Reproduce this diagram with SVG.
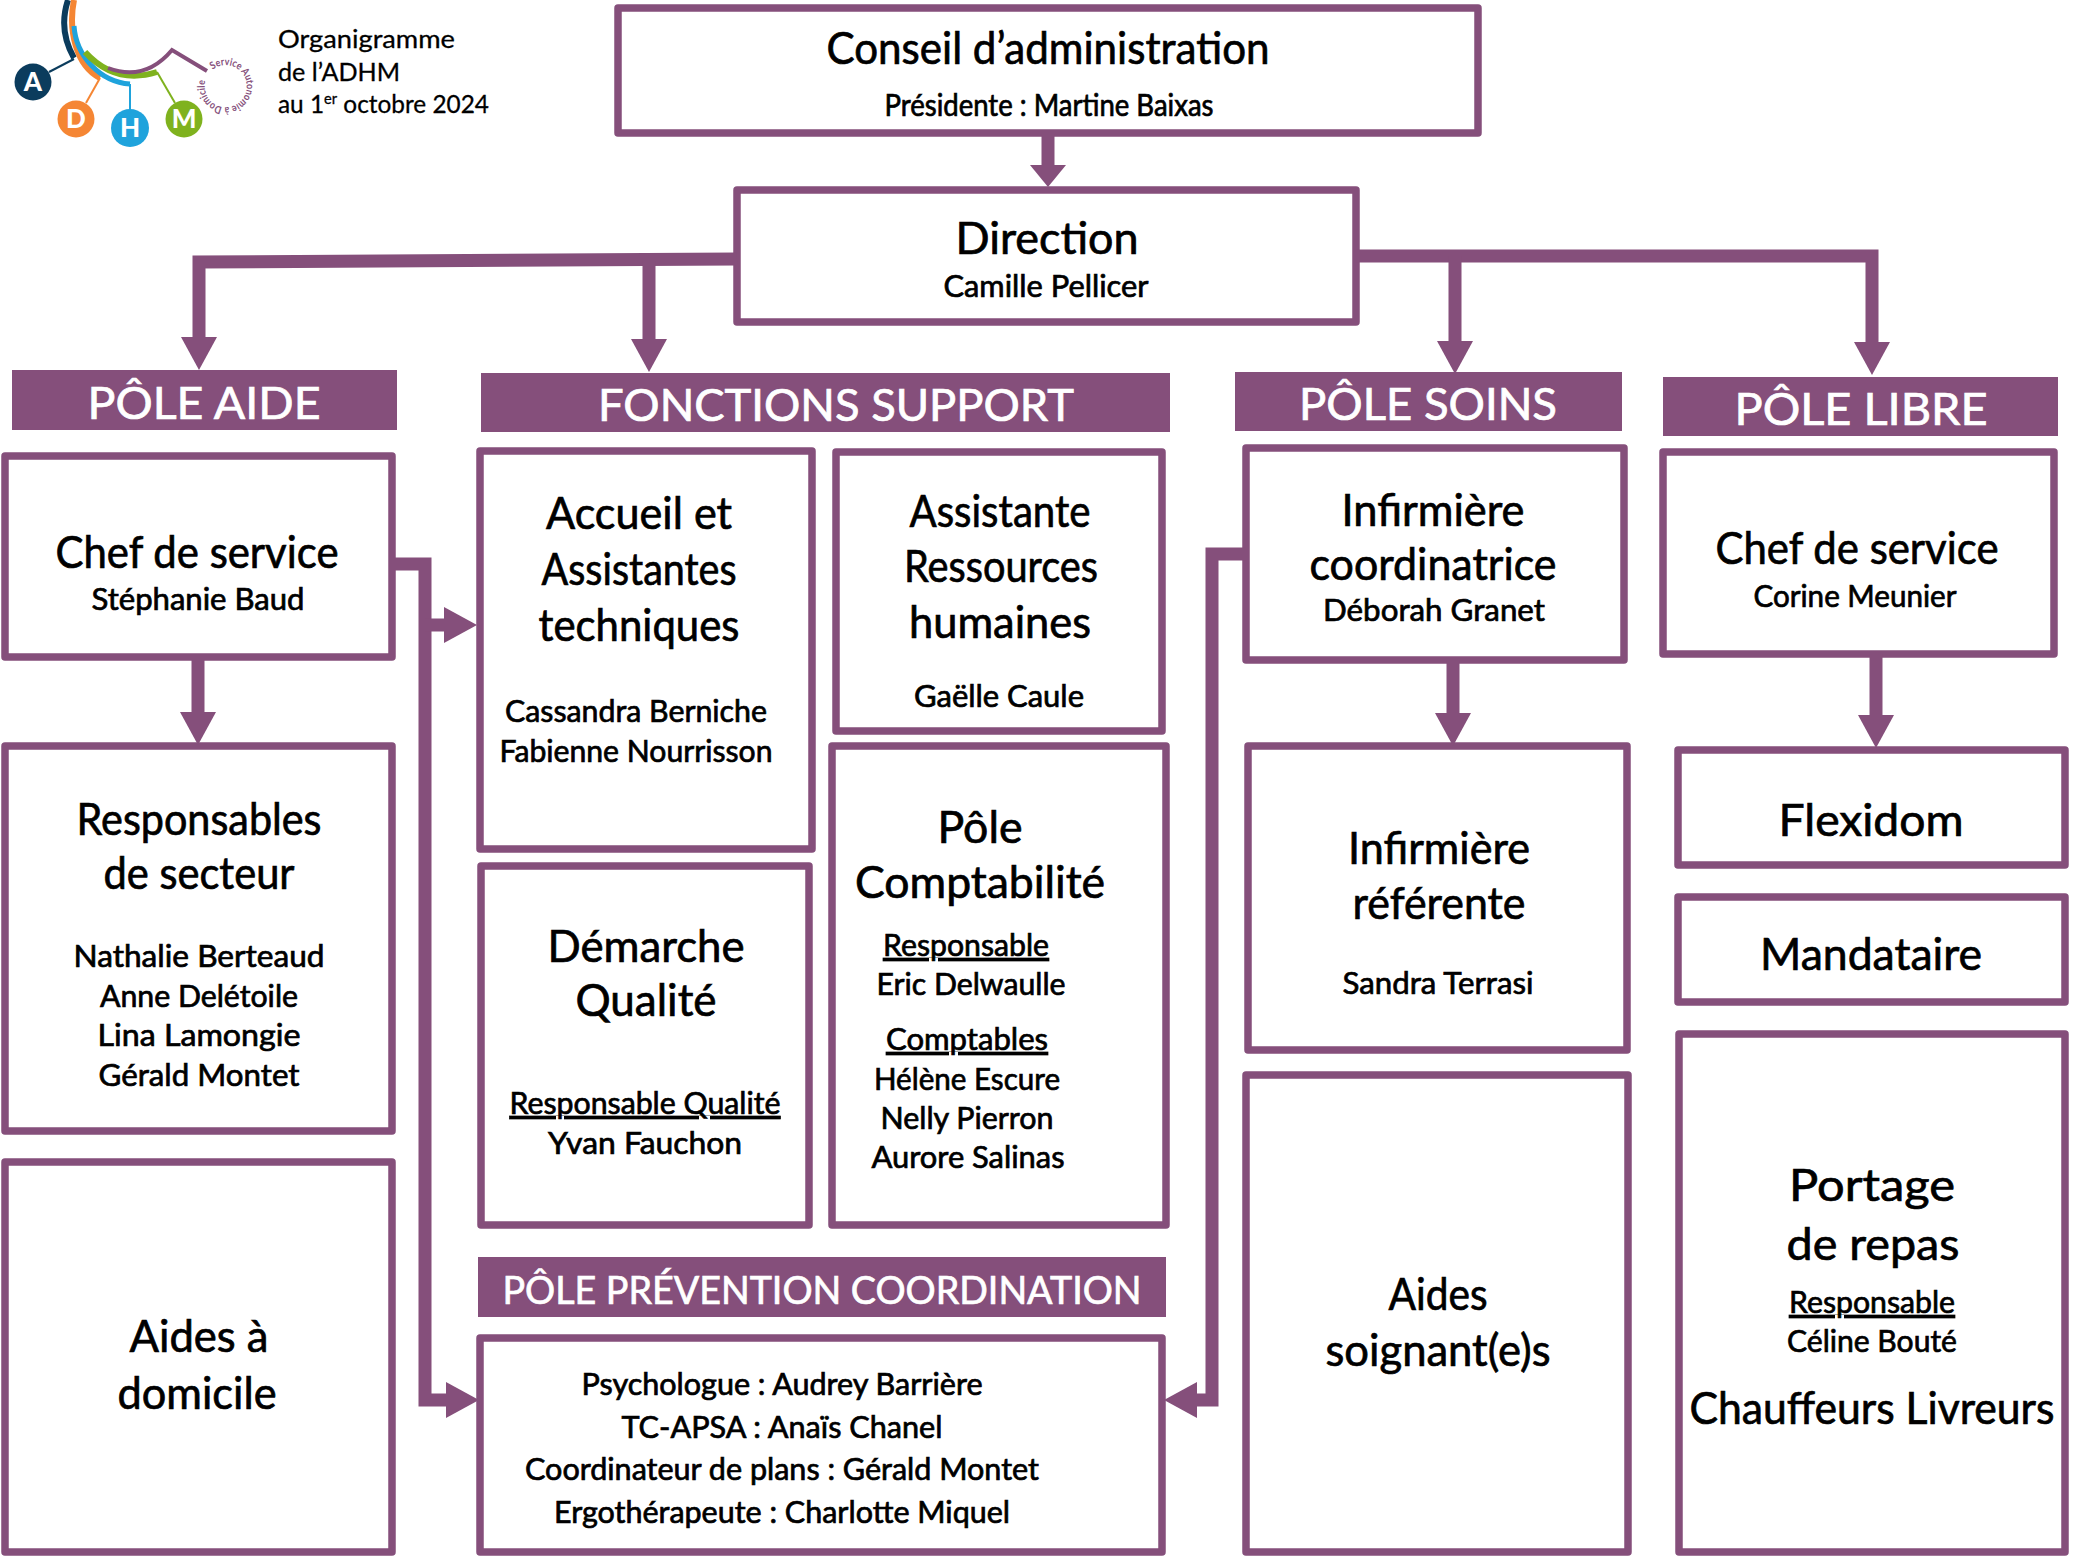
<svg xmlns="http://www.w3.org/2000/svg" width="2083" height="1556" viewBox="0 0 2083 1556">
<style>
text{font-family:"Lato","Noto Sans","Liberation Sans",sans-serif;fill:#000;text-anchor:middle;stroke:#000;stroke-width:.7}
.h{font-size:44px}
.n{font-size:30px}
.b{font-size:44px;fill:#fff;stroke:#fff}
.p{font-size:38px;fill:#fff;stroke:#fff}
.u{text-decoration:underline}
.l{text-anchor:start;font-size:25px;stroke-width:.3}
.box{fill:#fff;stroke:#854f7b;stroke-width:7.5;stroke-linejoin:round}
.ban{fill:#854f7b}
.c{fill:none;stroke:#854f7b;stroke-width:13;stroke-linejoin:miter}
.a{marker-end:url(#ah)}
.s{marker-end:url(#as)}
.logo{fill:none;stroke-linecap:butt}
.ln{font-size:26px;font-weight:900;fill:#fff;stroke:none}
</style>
<defs>
<marker id="ah" markerUnits="userSpaceOnUse" markerWidth="33" markerHeight="36" refX="0" refY="18" orient="auto"><polygon points="0,0 33,18 0,36" fill="#854f7b"/></marker>
<marker id="as" markerUnits="userSpaceOnUse" markerWidth="22" markerHeight="36" refX="0" refY="18" orient="auto"><polygon points="0,0 22,18 0,36" fill="#854f7b"/></marker>
<path id="ring" d="M212.7 69.7A21 21 0 1 1 206 79"/>
</defs>

<g id="logo">
<path class="logo" d="M68 0Q58 30 74 58" stroke="#0b3c5d" stroke-width="6"/>
<path class="logo" d="M74 59L49 72" stroke="#0b3c5d" stroke-width="2"/>
<path class="logo" d="M74 0C68 30 76 66 100 78" stroke="#f58634" stroke-width="6"/>
<path class="logo" d="M100 78L86 103" stroke="#f58634" stroke-width="2"/>
<path class="logo" d="M74 26C76 56 100 82 130 84" stroke="#1fa3dc" stroke-width="5"/>
<path class="logo" d="M130 84V110" stroke="#1fa3dc" stroke-width="2"/>
<path class="logo" d="M85 52Q115 85 157 72" stroke="#7fb21e" stroke-width="6"/>
<path class="logo" d="M157 72L175 103" stroke="#7fb21e" stroke-width="2"/>
<path class="logo" d="M108 68Q145 82 172 50L207 71" stroke="#854f7b" stroke-width="4"/>
<circle cx="33" cy="82" r="18.5" fill="#0b3c5d"/>
<circle cx="76" cy="119" r="18.5" fill="#f58634"/>
<circle cx="130" cy="128" r="19" fill="#1fa3dc"/>
<circle cx="184" cy="119" r="18.5" fill="#7fb21e"/>
<text class="ln" x="33" y="91">A</text>
<text class="ln" x="76" y="128">D</text>
<text class="ln" x="130" y="137">H</text>
<text class="ln" x="184" y="128">M</text>
<text style="font-size:10.5px;font-weight:700;fill:#854f7b;stroke:none;text-anchor:start"><textPath href="#ring" textLength="118" lengthAdjust="spacingAndGlyphs">Service Autonomie à Domicile</textPath></text>
</g>
<g id="titre">
<text class="l" x="278" y="48" textLength="177" lengthAdjust="spacingAndGlyphs">Organigramme</text>
<text class="l" x="278" y="81" textLength="122" lengthAdjust="spacingAndGlyphs">de l’ADHM</text>
<text class="l" x="278" y="113" textLength="211" lengthAdjust="spacingAndGlyphs">au 1<tspan font-size="15" dy="-9">er</tspan><tspan dy="9"> octobre 2024</tspan></text>
</g>

<g id="conseil"><rect class="box" x="618" y="8" width="860" height="125"/>
<text class="h" x="1048" y="64" textLength="443" lengthAdjust="spacingAndGlyphs">Conseil d’administration</text>
<text class="n" x="1049" y="116" textLength="329" lengthAdjust="spacingAndGlyphs">Présidente : Martine Baixas</text></g>
<g id="direction"><rect class="box" x="737" y="190" width="619" height="132"/>
<text class="h" x="1047" y="254" textLength="183" lengthAdjust="spacingAndGlyphs">Direction</text>
<text class="n" x="1046" y="297" textLength="205" lengthAdjust="spacingAndGlyphs">Camille Pellicer</text></g>

<g id="pole-aide"><rect class="ban" x="12" y="370" width="385" height="60"/>
<text class="b" x="204" y="419" textLength="233" lengthAdjust="spacingAndGlyphs">PÔLE AIDE</text></g>
<g id="fonctions-support"><rect class="ban" x="481" y="373" width="689" height="59"/>
<text class="b" x="836" y="421" textLength="476" lengthAdjust="spacingAndGlyphs">FONCTIONS SUPPORT</text></g>
<g id="pole-soins"><rect class="ban" x="1235" y="372" width="387" height="59"/>
<text class="b" x="1428" y="420" textLength="258" lengthAdjust="spacingAndGlyphs">PÔLE SOINS</text></g>
<g id="pole-libre"><rect class="ban" x="1663" y="377" width="395" height="59"/>
<text class="b" x="1861" y="425" textLength="253" lengthAdjust="spacingAndGlyphs">PÔLE LIBRE</text></g>
<g id="pole-prevention"><rect class="ban" x="478" y="1257" width="688" height="60"/>
<text class="p" x="822" y="1304" textLength="639" lengthAdjust="spacingAndGlyphs">PÔLE PRÉVENTION COORDINATION</text></g>

<g id="chef-aide"><rect class="box" x="5" y="456" width="387" height="201"/>
<text class="h" x="197" y="568" textLength="283" lengthAdjust="spacingAndGlyphs">Chef de service</text>
<text class="n" x="198" y="610" textLength="213" lengthAdjust="spacingAndGlyphs">Stéphanie Baud</text></g>
<g id="responsables-secteur"><rect class="box" x="5" y="746" width="387" height="385"/>
<text class="h" x="199" y="835" textLength="245" lengthAdjust="spacingAndGlyphs">Responsables</text>
<text class="h" x="199" y="889" textLength="191" lengthAdjust="spacingAndGlyphs">de secteur</text>
<text class="n" x="199" y="967" textLength="251" lengthAdjust="spacingAndGlyphs">Nathalie Berteaud</text>
<text class="n" x="199" y="1007" textLength="198" lengthAdjust="spacingAndGlyphs">Anne Delétoile</text>
<text class="n" x="199" y="1046" textLength="203" lengthAdjust="spacingAndGlyphs">Lina Lamongie</text>
<text class="n" x="199" y="1086" textLength="201" lengthAdjust="spacingAndGlyphs">Gérald Montet</text></g>
<g id="aides-domicile"><rect class="box" x="5" y="1162" width="387" height="390"/>
<text class="h" x="199" y="1352" textLength="139" lengthAdjust="spacingAndGlyphs">Aides à</text>
<text class="h" x="197" y="1409" textLength="159" lengthAdjust="spacingAndGlyphs">domicile</text></g>

<g id="accueil"><rect class="box" x="480" y="451" width="332" height="398"/>
<text class="h" x="639" y="529" textLength="186" lengthAdjust="spacingAndGlyphs">Accueil et</text>
<text class="h" x="639" y="585" textLength="195" lengthAdjust="spacingAndGlyphs">Assistantes</text>
<text class="h" x="639" y="641" textLength="201" lengthAdjust="spacingAndGlyphs">techniques</text>
<text class="n" x="636" y="722" textLength="262" lengthAdjust="spacingAndGlyphs">Cassandra Berniche</text>
<text class="n" x="636" y="762" textLength="273" lengthAdjust="spacingAndGlyphs">Fabienne Nourrisson</text></g>
<g id="assistante-rh"><rect class="box" x="836" y="452" width="326" height="279"/>
<text class="h" x="1000" y="527" textLength="181" lengthAdjust="spacingAndGlyphs">Assistante</text>
<text class="h" x="1001" y="582" textLength="194" lengthAdjust="spacingAndGlyphs">Ressources</text>
<text class="h" x="1000" y="638" textLength="182" lengthAdjust="spacingAndGlyphs">humaines</text>
<text class="n" x="999" y="707" textLength="170" lengthAdjust="spacingAndGlyphs">Gaëlle Caule</text></g>
<g id="demarche-qualite"><rect class="box" x="481" y="866" width="328" height="359"/>
<text class="h" x="646" y="962" textLength="197" lengthAdjust="spacingAndGlyphs">Démarche</text>
<text class="h" x="646" y="1016" textLength="141" lengthAdjust="spacingAndGlyphs">Qualité</text>
<text class="n u" x="645" y="1114" textLength="271" lengthAdjust="spacingAndGlyphs">Responsable Qualité</text>
<text class="n" x="645" y="1154" textLength="194" lengthAdjust="spacingAndGlyphs">Yvan Fauchon</text></g>
<g id="comptabilite"><rect class="box" x="832" y="746" width="334" height="479"/>
<text class="h" x="980" y="843" textLength="85" lengthAdjust="spacingAndGlyphs">Pôle</text>
<text class="h" x="980" y="898" textLength="250" lengthAdjust="spacingAndGlyphs">Comptabilité</text>
<text class="n u" x="966" y="956" textLength="166" lengthAdjust="spacingAndGlyphs">Responsable</text>
<text class="n" x="971" y="995" textLength="189" lengthAdjust="spacingAndGlyphs">Eric Delwaulle</text>
<text class="n u" x="967" y="1050" textLength="162" lengthAdjust="spacingAndGlyphs">Comptables</text>
<text class="n" x="967" y="1090" textLength="186" lengthAdjust="spacingAndGlyphs">Hélène Escure</text>
<text class="n" x="967" y="1129" textLength="173" lengthAdjust="spacingAndGlyphs">Nelly Pierron</text>
<text class="n" x="968" y="1168" textLength="193" lengthAdjust="spacingAndGlyphs">Aurore Salinas</text></g>
<g id="prevention"><rect class="box" x="480" y="1338" width="682" height="214"/>
<text class="n" x="782" y="1395" textLength="401" lengthAdjust="spacingAndGlyphs">Psychologue : Audrey Barrière</text>
<text class="n" x="782" y="1438" textLength="321" lengthAdjust="spacingAndGlyphs">TC-APSA : Anaïs Chanel</text>
<text class="n" x="782" y="1480" textLength="514" lengthAdjust="spacingAndGlyphs">Coordinateur de plans : Gérald Montet</text>
<text class="n" x="782" y="1523" textLength="456" lengthAdjust="spacingAndGlyphs">Ergothérapeute : Charlotte Miquel</text></g>

<g id="infirmiere-coordinatrice"><rect class="box" x="1246" y="448" width="378" height="212"/>
<text class="h" x="1433" y="526" textLength="183" lengthAdjust="spacingAndGlyphs">Infirmière</text>
<text class="h" x="1433" y="580" textLength="247" lengthAdjust="spacingAndGlyphs">coordinatrice</text>
<text class="n" x="1434" y="621" textLength="222" lengthAdjust="spacingAndGlyphs">Déborah Granet</text></g>
<g id="infirmiere-referente"><rect class="box" x="1248" y="746" width="379" height="304"/>
<text class="h" x="1439" y="864" textLength="182" lengthAdjust="spacingAndGlyphs">Infirmière</text>
<text class="h" x="1439" y="919" textLength="173" lengthAdjust="spacingAndGlyphs">référente</text>
<text class="n" x="1438" y="994" textLength="191" lengthAdjust="spacingAndGlyphs">Sandra Terrasi</text></g>
<g id="aides-soignants"><rect class="box" x="1246" y="1075" width="382" height="477"/>
<text class="h" x="1438" y="1310" textLength="99" lengthAdjust="spacingAndGlyphs">Aides</text>
<text class="h" x="1438" y="1366" textLength="225" lengthAdjust="spacingAndGlyphs">soignant(e)s</text></g>

<g id="chef-libre"><rect class="box" x="1663" y="452" width="391" height="202"/>
<text class="h" x="1857" y="564" textLength="283" lengthAdjust="spacingAndGlyphs">Chef de service</text>
<text class="n" x="1855" y="607" textLength="203" lengthAdjust="spacingAndGlyphs">Corine Meunier</text></g>
<g id="flexidom"><rect class="box" x="1678" y="750" width="387" height="115"/>
<text class="h" x="1871" y="836" textLength="185" lengthAdjust="spacingAndGlyphs">Flexidom</text></g>
<g id="mandataire"><rect class="box" x="1678" y="897" width="387" height="105"/>
<text class="h" x="1871" y="970" textLength="222" lengthAdjust="spacingAndGlyphs">Mandataire</text></g>
<g id="portage"><rect class="box" x="1679" y="1034" width="386" height="518"/>
<text class="h" x="1872" y="1201" textLength="166" lengthAdjust="spacingAndGlyphs">Portage</text>
<text class="h" x="1873" y="1260" textLength="173" lengthAdjust="spacingAndGlyphs">de repas</text>
<text class="n u" x="1872" y="1313" textLength="166" lengthAdjust="spacingAndGlyphs">Responsable</text>
<text class="n" x="1872" y="1352" textLength="170" lengthAdjust="spacingAndGlyphs">Céline Bouté</text>
<text class="h" x="1872" y="1424" textLength="365" lengthAdjust="spacingAndGlyphs">Chauffeurs Livreurs</text></g>

<g id="connectors">
<path class="c s" d="M1048 134V165"/>
<path class="c a" d="M737 259L199 262V337"/>
<path class="c a" d="M649 261V339"/>
<path class="c a" d="M1356 256H1872V342"/>
<path class="c a" d="M1455 256V341"/>
<path class="c a" d="M198 660V712"/>
<path class="c a" d="M395 564H425V1400H446"/>
<path class="c a" d="M425 625H444"/>
<path class="c a" d="M1246 554H1212V1400H1197"/>
<path class="c a" d="M1453 660V713"/>
<path class="c a" d="M1876 654V715"/>
</g>
</svg>
